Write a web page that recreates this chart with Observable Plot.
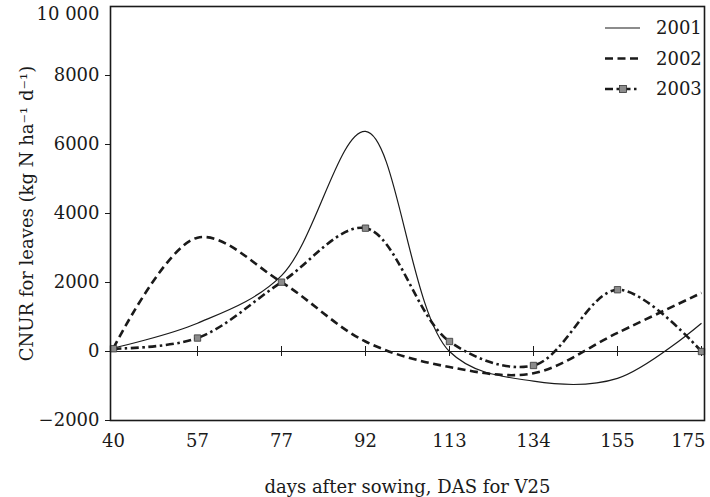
<!DOCTYPE html>
<html><head><meta charset="utf-8">
<script src="https://cdn.jsdelivr.net/npm/d3@7"></script>
<script src="https://cdn.jsdelivr.net/npm/@observablehq/plot@0.6"></script>
<style>
html,body{margin:0;padding:0;background:#fff;}
#wrap{position:relative;width:710px;height:497px;font-family:"DejaVu Serif",serif;}
#wrap svg{display:block;}
#legend{position:absolute;left:600px;top:10px;}
</style></head><body><div id="wrap"></div>
<script>
const days = ["40","57","77","92","113","134","155","175"];
const years = ["2001","2002","2003"];
const v2001 = [100, 820, 2200, 6380, 0, -860, -780, 820];
const v2002 = [100, 3300, 2010, 290, -450, -630, 540, 1700];
const v2003 = [80, 390, 2010, 3575, 290, -405, 1790, 0];
const yTicks = [-2000, 0, 2000, 4000, 6000, 8000, 10000];
const yLabel = "CNUR for leaves (kg N ha⁻¹ d⁻¹)";
const xLabel = "days after sowing, DAS for V25";

const series = {"2001": v2001, "2002": v2002, "2003": v2003};
const styles = {
  "2001": {strokeWidth: 1.2, dash: null},
  "2002": {strokeWidth: 2.6, dash: "8,4.5"},
  "2003": {strokeWidth: 2.6, dash: "8,3.5,2.5,3.5"}
};
const rows = years.flatMap(y => days.map((d, i) => ({year: y, day: d, value: series[y][i]})));

const W = 710, H = 497, mT = 6, mB = 77, mL = 110, mR = 6;
const yDomain = [-2000, 10000];
const unitsPerPx = (yDomain[1] - yDomain[0]) / (H - mT - mB);
const tickHalf = 5 * unitsPerPx;

const fmt = d => {
  const s = Math.abs(d) >= 10000 ? d3.format(",")(Math.abs(d)).replace(/,/g, " ") : String(Math.abs(d));
  return d < 0 ? "\u2212" + s : s;
};

const lineMarks = years.map(y => Plot.line(rows.filter(r => r.year === y), {
  x: "day", y: "value", curve: "catmull-rom",
  stroke: "#1a1a1a", strokeWidth: styles[y].strokeWidth,
  strokeDasharray: styles[y].dash || undefined, strokeLinecap: "butt"
}));

const topTick = yTicks.slice(-1);
const otherTicks = yTicks.slice(0, -1);

const chart = Plot.plot({
  width: W, height: H,
  marginTop: mT, marginBottom: mB, marginLeft: mL, marginRight: mR,
  style: {fontFamily: "DejaVu Serif", fontSize: "18px", color: "#1a1a1a", background: "#fff"},
  x: {type: "point", domain: days, padding: 0},
  y: {domain: yDomain},
  marks: [
    Plot.ruleY([0], {stroke: "#1a1a1a", strokeWidth: 1}),
    Plot.ruleX(days.slice(1), {x: d => d, y1: -tickHalf, y2: tickHalf, stroke: "#1a1a1a", strokeWidth: 1}),
    ...lineMarks,
    Plot.dot(rows.filter(r => r.year === "2003"), {x: "day", y: "value", symbol: "square", r: 3.6, fill: "#8c8c8c", stroke: "#333", strokeWidth: 0.8}),
    Plot.frame({stroke: "#1a1a1a", strokeWidth: 1.6}),
    Plot.axisY(otherTicks, {tickFormat: fmt, tickSize: 5, tickPadding: 6, stroke: "#1a1a1a",
      label: yLabel, labelAnchor: "center", labelArrow: "none", labelOffset: 90, fontSize: 18}),
    Plot.axisY(topTick, {tickFormat: fmt, tickSize: 0, tickPadding: 11, dy: 8, label: null, fontSize: 18}),
    Plot.axisX(days.slice(0, -1), {tickSize: 0, tickPadding: 14, fontSize: 18,
      label: xLabel, labelAnchor: "center", labelArrow: "none", labelOffset: 72}),
    Plot.axisX(days.slice(-1), {tickSize: 0, tickPadding: 14, fontSize: 18, textAnchor: "end", dx: 4, label: null})
  ]
});
document.getElementById("wrap").appendChild(chart);

// legend
const lg = d3.select("#wrap").append("svg").attr("id", "legend").attr("width", 110).attr("height", 95);
years.forEach((y, i) => {
  const cy = 18 + i * 30.5;
  lg.append("line").attr("x1", 5).attr("x2", 40).attr("y1", cy).attr("y2", cy)
    .attr("stroke", "#1a1a1a").attr("stroke-width", styles[y].strokeWidth)
    .attr("stroke-dasharray", styles[y].dash);
  if (y === "2003") lg.append("rect").attr("x", 19.5).attr("y", cy - 3.5).attr("width", 7).attr("height", 7)
    .attr("fill", "#8c8c8c").attr("stroke", "#333").attr("stroke-width", 0.8);
  lg.append("text").attr("x", 56).attr("y", cy).attr("dy", "0.35em")
    .attr("font-family", "DejaVu Serif").attr("font-size", 18).attr("fill", "#1a1a1a").text(y);
});
</script></body></html>
